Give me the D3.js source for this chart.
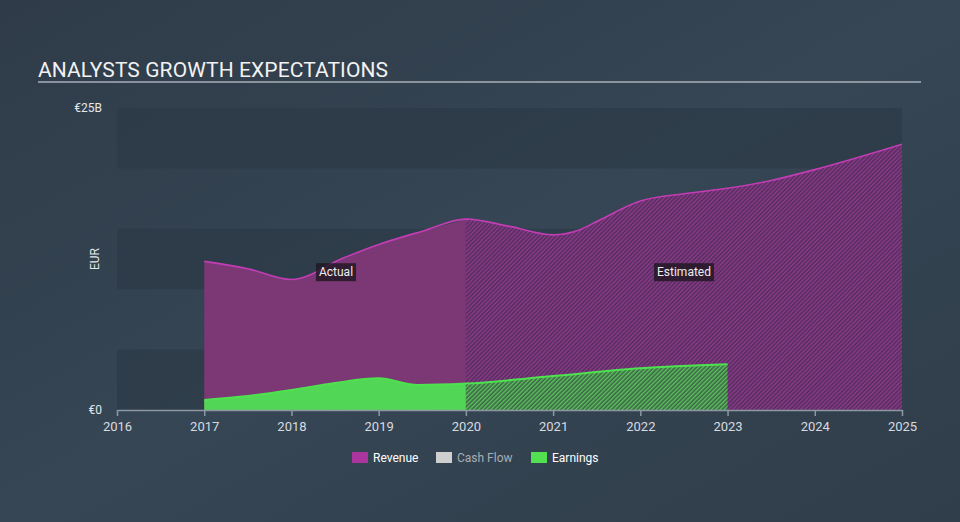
<!DOCTYPE html>
<html lang="en">
  <head>
    <title>Analysts growth expectations</title>
    <style>
      body { margin: 0; background: #34424f; font-family: Roboto, "Open Sans", sans-serif; }
      #viz svg { display: block; }
    </style>
  </head>
  <body>
    <main>
      <div id="viz"></div>
    </main>
    <script src="https://cdn.jsdelivr.net/npm/d3@7/dist/d3.min.js"></script>
    <script>
      // values in billions of EUR
      const revenueYears = [2017, 2017.5, 2018, 2018.6, 2019, 2019.5, 2020, 2020.5, 2021, 2021.3, 2021.5, 2022, 2022.5, 2023, 2023.5, 2024, 2025]
      const revenueValues = [12.3, 11.7, 10.8, 12.6, 13.7, 14.8, 15.8, 15.2, 14.5, 14.9, 15.6, 17.3, 17.9, 18.35, 19.0, 19.9, 22.0]
      const earningsYears = [2017, 2017.5, 2018, 2018.5, 2019, 2019.45, 2020, 2021, 2022, 2023]
      const earningsValues = [0.83, 1.16, 1.66, 2.24, 2.62, 2.07, 2.19, 2.81, 3.45, 3.78]
      const xTicks = [2016, 2017, 2018, 2019, 2020, 2021, 2022, 2023, 2024, 2025]
      const yTickLabels = ['€0', '€25B']
      const legendItems = ['Revenue', 'Cash Flow', 'Earnings']
      const estimateStart = 2020

      const width = 960
      const height = 522
      const svg = d3.select('#viz').append('svg').attr('width', width).attr('height', height)

      const x = d3.scaleLinear().domain([2016, 2025]).range([117, 902])
      const y = d3.scaleLinear().domain([0, 25]).range([410, 108])

      const defs = svg.append('defs')
      const bg = defs.append('linearGradient').attr('id', 'bg').attr('x1', 0).attr('y1', 0).attr('x2', 1).attr('y2', 1)
      bg.append('stop').attr('offset', '0%').attr('stop-color', '#2f3b49')
      bg.append('stop').attr('offset', '50%').attr('stop-color', '#364654')
      bg.append('stop').attr('offset', '100%').attr('stop-color', '#303d4a')

      const hatch = (id, base, stripe) => {
        const p = defs.append('pattern').attr('id', id)
          .attr('patternUnits', 'userSpaceOnUse')
          .attr('width', 3).attr('height', 3)
          .attr('patternTransform', 'rotate(45)')
        p.append('rect').attr('width', 3).attr('height', 3).attr('fill', base)
        p.append('rect').attr('width', 1.4).attr('height', 3).attr('fill', stripe)
      }
      hatch('hatchRevenue', '#532d5c', '#8e3b8c')
      hatch('hatchEarnings', '#3c6447', '#5cc45d')

      svg.append('rect').attr('width', width).attr('height', height).attr('fill', 'url(#bg)')

      // alternating bands
      const bands = [0, 10, 20]
      svg.selectAll('rect.band')
        .data(bands)
        .enter()
          .append('rect')
            .attr('class', 'band')
            .attr('x', x(2016))
            .attr('width', x(2025) - x(2016))
            .attr('y', d => y(d + 5))
            .attr('height', d => y(d) - y(d + 5))
            .attr('fill', '#2c3846')
            .attr('opacity', 0.6)

      // title
      svg.append('text')
        .attr('x', 38).attr('y', 77)
        .attr('fill', '#f2f2f2')
        .attr('font-size', 21)
        .attr('textLength', 350)
        .text('ANALYSTS GROWTH EXPECTATIONS')
      svg.append('line')
        .attr('x1', 38).attr('x2', 921).attr('y1', 82).attr('y2', 82)
        .attr('stroke', '#a9b0b8').attr('stroke-width', 1.5)

      const toPoints = (years, values) => years.map((yr, i) => ({ yr, v: values[i] }))
      const revenue = toPoints(revenueYears, revenueValues)
      const earnings = toPoints(earningsYears, earningsValues)

      const area = d3.area().curve(d3.curveMonotoneX).x(d => x(d.yr)).y0(y(0)).y1(d => y(d.v))
      const line = d3.line().curve(d3.curveMonotoneX).x(d => x(d.yr)).y(d => y(d.v))

      const drawSeries = (data, solid, pattern, stroke, strokeWidth) => {
        const actual = data.filter(d => d.yr <= estimateStart)
        const est = data.filter(d => d.yr >= estimateStart)
        svg.append('path').attr('d', area(actual)).attr('fill', solid)
        svg.append('path').attr('d', area(est)).attr('fill', pattern)
        svg.append('path').attr('d', line(data))
          .attr('fill', 'none').attr('stroke', stroke).attr('stroke-width', strokeWidth)
      }
      drawSeries(revenue, '#7b3874', 'url(#hatchRevenue)', '#c33db5', 1.6)
      drawSeries(earnings, '#52d655', 'url(#hatchEarnings)', '#4fe24f', 2)

      // x axis
      const xAxis = svg.append('g')
        .attr('transform', `translate(0, ${y(0)})`)
        .call(d3.axisBottom(x).tickValues(xTicks).tickFormat(d3.format('d')).tickSize(6).tickSizeOuter(0))
      xAxis.select('.domain').attr('stroke', '#8d98a4').attr('stroke-width', 1.5)
      xAxis.selectAll('.tick line').attr('stroke', '#8d98a4').attr('stroke-width', 1.5)
      xAxis.selectAll('.tick text')
        .attr('fill', '#d7dbe0').attr('font-size', 13).attr('font-family', 'Roboto, sans-serif').attr('dy', '0.95em')

      // y labels
      svg.selectAll('text.ylab')
        .data([0, 25])
        .enter()
          .append('text')
            .attr('class', 'ylab')
            .attr('x', 102)
            .attr('y', d => y(d))
            .attr('dy', '0.35em')
            .attr('text-anchor', 'end')
            .attr('fill', '#e3e6ea')
            .attr('font-size', 12)
            .text((d, i) => yTickLabels[i])
      svg.append('text')
        .attr('transform', `translate(99, ${y(12.5)}) rotate(-90)`)
        .attr('text-anchor', 'middle')
        .attr('fill', '#e3e6ea')
        .attr('font-size', 12)
        .text('EUR')

      // Actual / Estimated tags
      const tag = (label, cx, cy) => {
        const g = svg.append('g').attr('transform', `translate(${cx}, ${cy})`)
        const t = g.append('text').attr('text-anchor', 'middle').attr('dy', '0.35em')
          .attr('fill', '#eeeeee').attr('font-size', 12).text(label)
        const b = t.node().getBBox()
        g.insert('rect', 'text')
          .attr('x', b.x - 3).attr('y', b.y - 2).attr('width', b.width + 6).attr('height', b.height + 4)
          .attr('fill', '#1e1620').attr('opacity', 0.8)
      }
      tag('Actual', 336, 272)
      tag('Estimated', 684, 272)

      // legend
      const legendColors = ['#ab359f', '#cfcfcf', '#52e052']
      const legendText = ['#ffffff', '#a7aeb6', '#ffffff']
      const legendX = [352, 436, 531]
      legendItems.forEach((name, i) => {
        svg.append('rect')
          .attr('x', legendX[i]).attr('y', 452).attr('width', 16).attr('height', 11)
          .attr('fill', legendColors[i])
        svg.append('text')
          .attr('x', legendX[i] + 21).attr('y', 458).attr('dy', '0.35em')
          .attr('fill', legendText[i]).attr('font-size', 12)
          .text(name)
      })
    </script>
  </body>
</html>
